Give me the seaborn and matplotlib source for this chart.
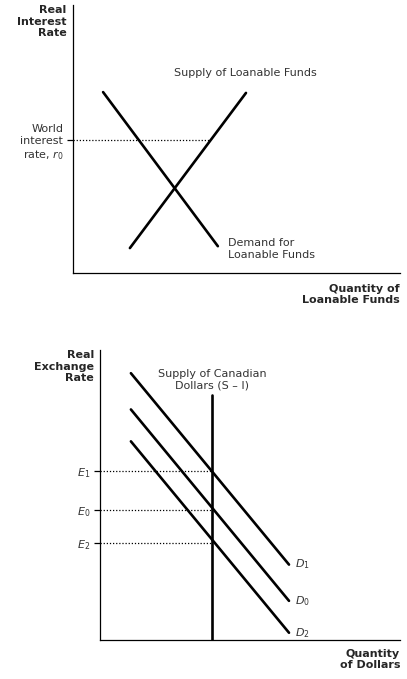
import matplotlib
matplotlib.use("Agg")
import matplotlib.pyplot as plt
import seaborn as sns
import pandas as pd

sns.set_style("white")
plt.rcParams['font.family'] = ['DejaVu Sans']

# top panel: loanable funds
demand_x = [0.92, 4.43]
demand_y = [6.75, 1.0]
supply_x = [1.74, 5.29]
supply_y = [0.93, 6.72]
world_rate = 4.96
world_rate_end = 4.19

# bottom panel: exchange market
d_names = ["$D_1$", "$D_0$", "$D_2$"]
d_x = [1.03, 6.3]
d_start = [9.2, 7.95, 6.85]
d_end = [2.6, 1.35, 0.25]
e_names = ["$E_1$", "$E_0$", "$E_2$"]
e_vals = [5.83, 4.48, 3.34]
supply_cad = 3.73
supply_top = 8.45

W, H = 407, 679
fig = plt.figure(figsize=(W / 100, H / 100), dpi=100)

def axes_px(x0, y0, x1, y1):
    return fig.add_axes([x0 / W, 1 - y1 / H, (x1 - x0) / W, (y1 - y0) / H])

fs = 8
lw = 1.9

def style(ax):
    ax.set_xlim(0, 10)
    ax.set_ylim(0, 10)
    sns.despine(ax=ax)
    for s in ["left", "bottom"]:
        ax.spines[s].set_color("black")
        ax.spines[s].set_linewidth(0.9)
    ax.set_xticks([])
    ax.set_facecolor("none")

ax1 = axes_px(73, 5, 400, 273)
style(ax1)
sns.lineplot(data=pd.DataFrame({"x": demand_x, "y": demand_y}), x="x", y="y",
             ax=ax1, color="black", lw=lw)
sns.lineplot(data=pd.DataFrame({"x": supply_x, "y": supply_y}), x="x", y="y",
             ax=ax1, color="black", lw=lw)
ax1.plot([0, world_rate_end], [world_rate, world_rate], color="black", lw=0.9, ls=(0, (1, 1.5)))
ax1.set_yticks([world_rate])
ax1.set_yticklabels(["World\ninterest\nrate, $r_0$"], fontsize=fs, color="#333333")
ax1.tick_params(axis="y", length=4, width=0.9, color="black", left=True, pad=3)
ax1.set_xlabel(""); ax1.set_ylabel("")
ax1.text(5.26, 7.28, "Supply of Loanable Funds", ha="center", va="bottom", fontsize=fs, color="#333333")
ax1.text(4.74, 0.9, "Demand for\nLoanable Funds", ha="left", va="center", fontsize=fs, color="#333333")
ax1.text(-0.2, 10, "Real\nInterest\nRate", ha="right", va="top", fontsize=fs, fontweight="bold")
ax1.text(10, -0.4, "Quantity of\nLoanable Funds", ha="right", va="top", fontsize=fs, fontweight="bold")

ax2 = axes_px(100, 350, 400, 640)
style(ax2)
for name, y0, y1 in zip(d_names, d_start, d_end):
    sns.lineplot(data=pd.DataFrame({"x": d_x, "y": [y0, y1]}), x="x", y="y",
                 ax=ax2, color="black", lw=lw)
    ax2.text(d_x[1] + 0.2, y1, name, ha="left", va="center", fontsize=fs, color="#333333")
ax2.plot([supply_cad, supply_cad], [0, supply_top], color="black", lw=lw)
for e in e_vals:
    ax2.plot([0, supply_cad], [e, e], color="black", lw=0.9, ls=(0, (1, 1.5)))
ax2.set_yticks(e_vals)
ax2.set_yticklabels(e_names, fontsize=fs, color="#333333")
ax2.tick_params(axis="y", length=4, width=0.9, color="black", left=True, pad=3)
ax2.set_xlabel(""); ax2.set_ylabel("")
ax2.text(supply_cad, 8.6, "Supply of Canadian\nDollars (S \u2013 I)", ha="center", va="bottom",
         fontsize=fs, color="#333333")
ax2.text(-0.2, 10, "Real\nExchange\nRate", ha="right", va="top", fontsize=fs, fontweight="bold")
ax2.text(10, -0.3, "Quantity\nof Dollars", ha="right", va="top", fontsize=fs, fontweight="bold")

fig.savefig("out.png", dpi=100)
